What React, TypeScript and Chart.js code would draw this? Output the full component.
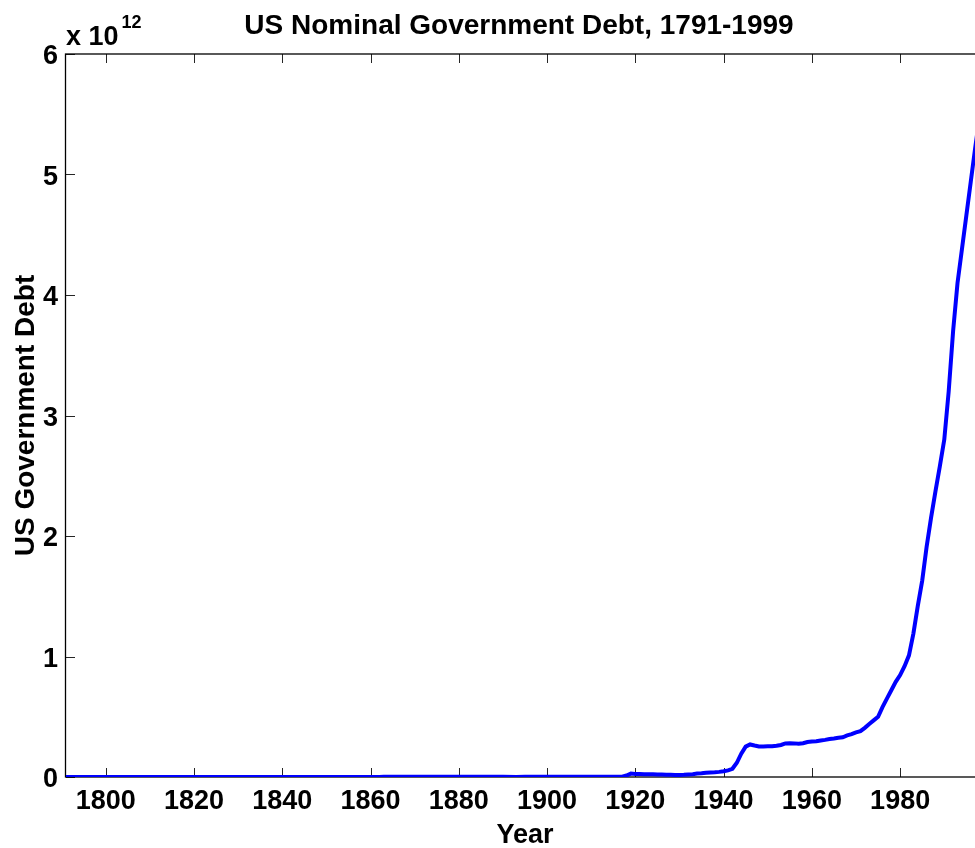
import { useEffect, useRef } from "react";
import { Chart, registerables } from "chart.js";

Chart.register(...registerables);

// Data: year and nominal debt in billions of US dollars
const years = [
  1791, 1795, 1800, 1805, 1810, 1812, 1815, 1820, 1825, 1830, 1833, 1835, 1837, 1840,
  1843, 1845, 1848, 1850, 1855, 1857, 1860, 1861, 1862, 1863, 1864, 1865, 1866, 1870,
  1875, 1880, 1885, 1890, 1893, 1895, 1899, 1900, 1905, 1910, 1915, 1916, 1917, 1918,
  1919, 1920, 1921, 1922, 1923, 1924, 1925, 1926, 1927, 1928, 1929, 1930, 1931, 1932,
  1933, 1934, 1935, 1936, 1937, 1938, 1939, 1940, 1941, 1942, 1943, 1944, 1945, 1946,
  1947, 1948, 1949, 1950, 1951, 1952, 1953, 1954, 1955, 1956, 1957, 1958, 1959, 1960,
  1961, 1962, 1963, 1964, 1965, 1966, 1967, 1968, 1969, 1970, 1971, 1972, 1973, 1974,
  1975, 1976, 1977, 1978, 1979, 1980, 1981, 1982, 1983, 1984, 1985, 1986, 1987, 1988,
  1989, 1990, 1991, 1992, 1993, 1994, 1995, 1996, 1997, 1998, 1999,
];
const debtBillions = [
  0.0755, 0.0807, 0.083, 0.0757, 0.048, 0.056, 0.1273, 0.09, 0.0838, 0.0486, 0.007, 0.00004, 0.0033, 0.0036,
  0.0327, 0.0159, 0.047, 0.0635, 0.0356, 0.0287, 0.0648, 0.0906, 0.524, 1.12, 1.816, 2.678, 2.756, 2.437,
  2.232, 2.091, 1.579, 1.122, 0.961, 1.097, 1.437, 1.263, 1.132, 1.147, 1.191, 1.225, 2.976, 12.46,
  28.0, 25.5, 24.5, 23.4, 22.8, 21.8, 21.0, 20.2, 19.2, 18.3, 17.6, 17.0, 17.8, 20.5,
  23.6, 28.2, 31.0, 35.0, 38.0, 39.5, 42.5, 48.0, 55.0, 68.0, 118.0, 193.0, 252.0, 270.0,
  261.0, 253.0, 253.0, 256.0, 256.0, 259.0, 266.0, 279.0, 281.0, 279.0, 276.0, 280.0, 290.0, 295.0,
  297.0, 303.0, 308.0, 315.0, 320.0, 326.0, 330.0, 345.0, 355.0, 370.0, 380.0, 408.0, 440.0, 470.0,
  500.0, 580.0, 650.0, 720.0, 790.0, 846.0, 920.0, 1010.0, 1190.0, 1420.0, 1630.0, 1910.0, 2150.0, 2370.0,
  2580.0, 2800.0, 3200.0, 3700.0, 4100.0, 4380.0, 4660.0, 4940.0, 5220.0, 5480.0, 5680.0,
];

const xTicks = [1800, 1820, 1840, 1860, 1880, 1900, 1920, 1940, 1960, 1980];
const yTicks = [0, 1, 2, 3, 4, 5, 6];
const xMin = 1791;
const xMax = 1999;
const yMax = 6;
const exponent = 12;

const TITLE = "US Nominal Government Debt, 1791-1999";
const X_LABEL = "Year";
const Y_LABEL = "US Government Debt";

const FONT = "'Liberation Sans', Arial, Helvetica, sans-serif";

export default function App() {
  const ref = useRef<HTMLCanvasElement | null>(null);

  useEffect(() => {
    const canvas = ref.current;
    if (!canvas) return;
    const scaleFactor = Math.pow(10, exponent);

    const points = years.map((yr, i) => ({ x: yr, y: debtBillions[i] * 1e9 }));

    const framePlugin = {
      id: "matlabFrame",
      beforeDatasetsDraw(chart: any) {
        const { ctx, chartArea: a, scales } = chart;
        const xs = scales.x;
        const ys = scales.y;
        const tl = 9;
        ctx.save();
        ctx.lineWidth = 1;
        ctx.strokeStyle = "#262626";
        ctx.beginPath();
        for (const t of xTicks) {
          const px = Math.round(xs.getPixelForValue(t)) + 0.5;
          ctx.moveTo(px, a.bottom);
          ctx.lineTo(px, a.bottom - tl);
          ctx.moveTo(px, a.top);
          ctx.lineTo(px, a.top + tl);
        }
        for (const t of yTicks) {
          const py = Math.round(ys.getPixelForValue(t * scaleFactor)) + 0.5;
          ctx.moveTo(a.left, py);
          ctx.lineTo(a.left + tl, py);
          ctx.moveTo(a.right, py);
          ctx.lineTo(a.right - tl, py);
        }
        ctx.stroke();
        ctx.strokeStyle = "#000";
        ctx.lineWidth = 1.3;
        ctx.strokeRect(a.left - 0.5, a.top, a.right - a.left, a.bottom - a.top);
        ctx.restore();
      },
      afterDraw(chart: any) {
        const { ctx, chartArea: a } = chart;
        const cx = (a.left + a.right) / 2;
        const cy = (a.top + a.bottom) / 2;
        ctx.save();
        ctx.fillStyle = "#000";
        // title
        ctx.font = `bold 28px ${FONT}`;
        ctx.textAlign = "center";
        ctx.textBaseline = "alphabetic";
        ctx.fillText(TITLE, cx - 6, 34);
        // x label
        ctx.font = `bold 27px ${FONT}`;
        ctx.fillText(X_LABEL, cx, 843);
        // y label
        ctx.save();
        ctx.translate(34, cy);
        ctx.rotate(-Math.PI / 2);
        ctx.font = `bold 28px ${FONT}`;
        ctx.fillText(Y_LABEL, 0, 0);
        ctx.restore();
        // exponent
        ctx.textAlign = "left";
        ctx.font = `bold 27px ${FONT}`;
        const base = "x 10";
        ctx.fillText(base, 66, 45);
        const w = ctx.measureText(base).width;
        ctx.font = `bold 18px ${FONT}`;
        ctx.fillText(String(exponent), 66 + w + 3, 28);
        ctx.restore();
      },
    };

    const chart = new Chart(canvas, {
      type: "line",
      data: {
        datasets: [
          {
            data: points,
            borderColor: "#0000FF",
            borderWidth: 4,
            pointRadius: 0,
            tension: 0,
            fill: false,
          },
        ],
      },
      options: {
        animation: false,
        responsive: false,
        devicePixelRatio: 1,
        layout: { padding: { top: 54, right: 16, left: 0, bottom: 0 } },
        plugins: {
          legend: { display: false },
          tooltip: { enabled: false },
          title: { display: false },
        },
        scales: {
          x: {
            type: "linear",
            min: xMin,
            max: xMax,
            grid: { display: false, drawTicks: false },
            border: { display: false },
            afterBuildTicks: (scale: any) => {
              scale.ticks = xTicks.map((v) => ({ value: v }));
            },
            afterFit: (scale: any) => {
              scale.height = 71;
            },
            ticks: {
              autoSkip: false,
              maxRotation: 0,
              padding: 8,
              color: "#000",
              font: { family: FONT, size: 27, weight: "bold" },
              callback: (v: any) => String(v),
            },
          },
          y: {
            type: "linear",
            min: 0,
            max: yMax * scaleFactor,
            grid: { display: false, drawTicks: false },
            border: { display: false },
            afterBuildTicks: (scale: any) => {
              scale.ticks = yTicks.map((v) => ({ value: v * scaleFactor }));
            },
            afterFit: (scale: any) => {
              scale.width = 66;
            },
            ticks: {
              autoSkip: false,
              padding: 8,
              labelOffset: 3,
              color: "#000",
              font: { family: FONT, size: 27, weight: "bold" },
              callback: (v: any) => String(Math.round(Number(v) / scaleFactor)),
            },
          },
        },
      },
      plugins: [framePlugin],
    } as any);

    return () => chart.destroy();
  }, []);

  return (
    <div
      style={{
        position: "fixed",
        left: 0,
        top: 0,
        width: 975,
        height: 848,
        overflow: "hidden",
        background: "#fff",
      }}
    >
      <canvas ref={ref} width={1000} height={848} style={{ display: "block", width: 1000, height: 848 }} />
    </div>
  );
}
